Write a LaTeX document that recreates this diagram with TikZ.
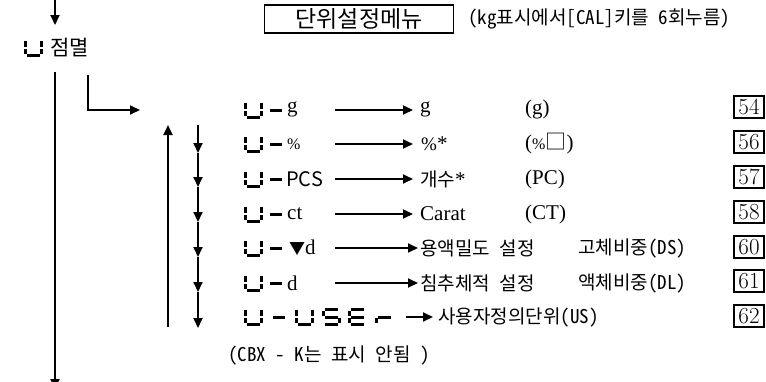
\documentclass[tikz,border=0pt]{standalone}
\usepackage{fontspec}
\newfontfamily\kr{Noto Sans CJK KR}
\newfontfamily\krh[RawFeature=+hwid]{Noto Sans CJK KR}
\newfontfamily\tms{Liberation Serif}
\usetikzlibrary{arrows.meta}
\newcommand\hs{\hspace{0.5em}}
\tikzset{
  conn/.style={line width=1.8pt,-{Triangle[length=10pt,width=9pt]}},
  seg/.style={line width=3pt},
  krt/.style={font=\krh\fontsize{19}{21}\selectfont,inner sep=0pt,anchor=west},
  sert/.style={font=\tms\fontsize{21}{23}\selectfont,inner sep=0pt,anchor=west},
  pagebox/.style={draw,line width=1.2pt,minimum width=30pt,minimum height=22pt,inner sep=0pt,font=\fontsize{23}{24}\selectfont},
  segU/.pic={
    \draw[seg] (-8,-7.5)--(-8,-0.8) (-8,0.8)--(-8,6) (-6.5,7.5)--(6.5,7.5)
               (8,-7.5)--(8,-0.8) (8,0.8)--(8,6);},
  segD/.pic={\draw[line width=3pt] (-6,0)--(6,0);},
  segS/.pic={
    \draw[seg] (-6.5,-7.5)--(6.5,-7.5) (-8,-6)--(-8,-0.8) (-6.5,0)--(6.5,0)
               (8,0.8)--(8,6) (-6.5,7.5)--(6.5,7.5);},
  segE/.pic={
    \draw[seg] (-6.5,-7.5)--(6.5,-7.5) (-8,-6)--(-8,-0.8) (-6.5,0)--(6.5,0)
               (-8,0.8)--(-8,6) (-6.5,7.5)--(6.5,7.5);},
  segR/.pic={
    \draw[seg] (-6.5,0)--(6.5,0) (-8,0.8)--(-8,6);},
}
\begin{document}
\begin{tikzpicture}[x=1pt,y=-1pt]
\useasboundingbox (0,0) rectangle (766,381);

% header
\node[draw,line width=1.2pt,minimum width=189pt,minimum height=28pt,inner sep=0pt,
      font=\kr\fontsize{23}{24}\selectfont] (menu) at (359,19) {단위설정메뉴};
\node[krt] (note) at (468,19) {(kg표시에서[CAL]키를\hs 6회누름)};

% blink
\pic at (33,48) {segU};
\node[krt,font=\kr\fontsize{21}{23}\selectfont] (blink) at (50,48) {점멸};
\coordinate (t0) at (55,-2);
\coordinate (t1) at (55,25);
\draw[conn] (t0) -- (t1);
\coordinate (m0) at (55,72);
\coordinate (m1) at (55,389);
\draw[conn] (m0) -- (m1);
\coordinate (L0) at (88,75);
\coordinate (L1) at (140,110);
\draw[conn] (L0) |- (L1);

% rows
\def\yA{110}\def\yB{144}\def\yC{179}\def\yD{214}\def\yE{248}\def\yF{283}\def\yG{317}
\foreach \yy in {\yA,\yB,\yC,\yD,\yE,\yF}{
  \pic at (253,\yy) {segU};
  \pic at (276,\yy) {segD};
}
\node[sert] (l1) at (287,\yA-1) {g};
\node[sert,font=\tms\fontsize{16}{18}\selectfont] (l2) at (287,\yB) {\%};
\node[krt,font=\kr\fontsize{20}{22}\selectfont] (l3) at (286,\yC) {PCS};
\node[sert] (l4) at (287,\yD) {ct};
\node[sert] (l5) at (289,\yE) {{\kr\fontsize{16}{16}\selectfont ▼}d};
\node[sert] (l6) at (287,\yF) {d};

\node[sert] (r1) at (420,\yA-1) {g};
\node[sert] (r2) at (421,\yB) {{\fontsize{19}{20}\selectfont\%}*};
\node[krt] (r3) at (420,\yC) {개수{\tms\fontsize{21}{23}\selectfont*}};
\node[sert] (r4) at (420,\yD) {Carat};
\node[krt] (r5) at (420,\yE) {용액밀도\hs 설정};
\node[krt] (r6) at (420,\yF) {침추체적\hs 설정};

\foreach \i/\yy in {1/\yA,2/\yB,3/\yC,4/\yD}{
  \coordinate (s\i) at (335,\yy);
  \draw[conn] (s\i) -- (413,\yy);
}
\foreach \i/\yy in {5/\yE,6/\yF}{
  \coordinate (s\i) at (335,\yy);
  \draw[conn] (s\i) -- (418,\yy);
}

\node[sert] (c1) at (525,\yA-1) {(g)};
\node[sert] (c2) at (525,\yB) {({\fontsize{16}{18}\selectfont\%}{\kr □})};
\node[sert] (c3) at (525,\yC) {(PC)};
\node[sert] (c4) at (525,\yD) {(CT)};
\node[krt] (c5) at (578,\yE) {고체비중(DS)};
\node[krt] (c6) at (578,\yF) {액체비중(DL)};

% user row
\pic at (253,\yG) {segU};
\pic at (279,\yG) {segD};
\pic at (304,\yG) {segU};
\pic at (331,\yG) {segS};
\pic at (357,\yG) {segE};
\pic at (384,\yG) {segR};
\coordinate (s7) at (406,\yG);
\node[krt] (r7) at (438,\yG) {사용자정의단위(US)};
\draw[conn,shorten >=5pt] (s7) -- (r7.west);

% page boxes
\node[pagebox] (p1) at (749,\yA-3) {54};
\node[pagebox] (p2) at (749,\yB-2) {56};
\node[pagebox] (p3) at (749,\yC-2) {57};
\node[pagebox] (p4) at (749,\yD-2) {58};
\node[pagebox] (p5) at (749,\yE-1) {60};
\node[pagebox] (p6) at (749,\yF-2) {61};
\node[pagebox] (p7) at (749,\yG-1) {62};

% loop arrows
\coordinate (u0) at (168,327);
\coordinate (u1) at (168,125);
\draw[conn] (u0) -- (u1);
\coordinate (d0) at (198,125);
\coordinate (d2) at (198,153);
\coordinate (d3) at (198,187);
\coordinate (d4) at (198,222);
\coordinate (d5) at (198,257);
\coordinate (d6) at (198,292);
\coordinate (d7) at (198,328);
\draw[conn] (d0) -- (d2);
\draw[conn] (d2) -- (d3);
\draw[conn] (d3) -- (d4);
\draw[conn] (d4) -- (d5);
\draw[conn] (d5) -- (d6);
\draw[conn] (d6) -- (d7);

\node[krt] (cbx) at (228,355) {(CBX\hs -\hs K는\hs 표시\hs 안됨\hs )};
\end{tikzpicture}
\end{document}
